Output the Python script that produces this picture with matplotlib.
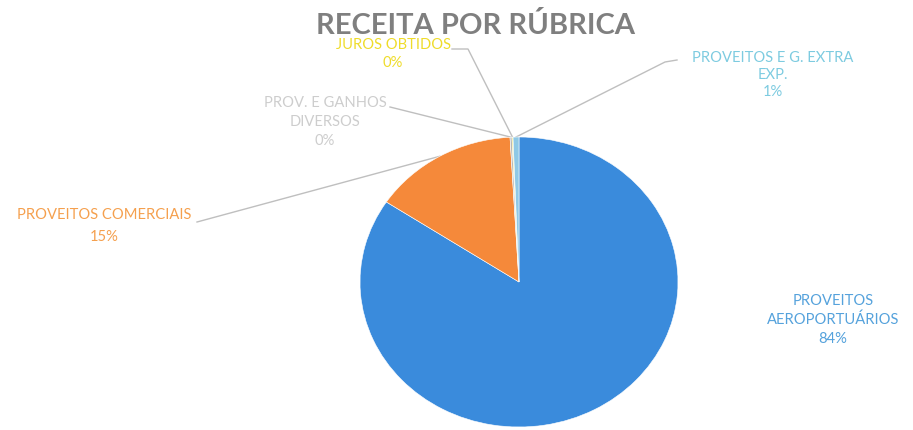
import numpy as np
import matplotlib
matplotlib.use("Agg")
import matplotlib.pyplot as plt

# dados
categorias = ["PROVEITOS\nAEROPORTUÁRIOS", "PROVEITOS COMERCIAIS",
              "PROV. E GANHOS\nDIVERSOS", "JUROS OBTIDOS",
              "PROVEITOS E G. EXTRA\nEXP."]
valores = [84.3, 14.8, 0.2, 0.1, 0.6]
cores = ["#3a8bdc", "#f5893a", "#b8b8b8", "#f2d91c", "#8fc9e6"]
cores_texto = ["#55a2dc", "#f5a04e", "#cdcdcd", "#efdc2a", "#7dcbe0"]

plt.rcParams['font.family'] = ['Lato', 'DejaVu Sans']

fig = plt.figure(figsize=(9.13, 4.30), dpi=100)
ax = fig.add_axes([0, 0, 1, 1])

# centro e raio do bolo em pixeis (imagem ligeiramente achatada)
cx, cy, rx, ry = 519, 282, 159, 145

def px(x, y):
    return (x - cx) / rx, (cy - y) / ry

wedges, _ = ax.pie(valores, colors=cores, startangle=90, counterclock=False,
                   radius=1, center=(0, 0),
                   wedgeprops=dict(linewidth=0.4, edgecolor="white"))
ax.set_xlim((0 - cx) / rx, (913 - cx) / rx)
ax.set_ylim((cy - 430) / ry, cy / ry)
ax.set_aspect("auto")
ax.axis("off")

total = sum(valores)
pct = [f"{round(v / total * 100):.0f}%" for v in valores]

# posições das etiquetas (pixeis) e cotovelos das linhas
pos = [(833, 320), (104, 226), (325, 122), (393, 54), (773, 75)]
esp = [1.45, 1.65, 1.45, 1.3, 1.3]
cotovelos = [None, [(197, 222)], [(390, 107)], [(452, 49), (468, 49)],
             [(677, 60), (665, 62)]]

for i, w in enumerate(wedges):
    x, y = px(*pos[i])
    ax.text(x, y, categorias[i] + "\n" + pct[i], ha="center", va="center",
            fontsize=10.6, color=cores_texto[i], linespacing=esp[i])
    if cotovelos[i] is None:
        continue
    ang = np.deg2rad((w.theta1 + w.theta2) / 2)
    ex, ey = np.cos(ang), np.sin(ang)
    pts = [px(*p) for p in cotovelos[i]] + [(ex, ey)]
    ax.plot([p[0] for p in pts], [p[1] for p in pts], color="#bfbfbf",
            lw=1.0, zorder=0)

tx, ty = px(475, 26)
ax.text(tx, ty, "RECEITA POR RÚBRICA", ha="center", va="center",
        fontsize=21, fontweight="bold", color="#7f7f7f")

fig.savefig("out.png", dpi=100)
